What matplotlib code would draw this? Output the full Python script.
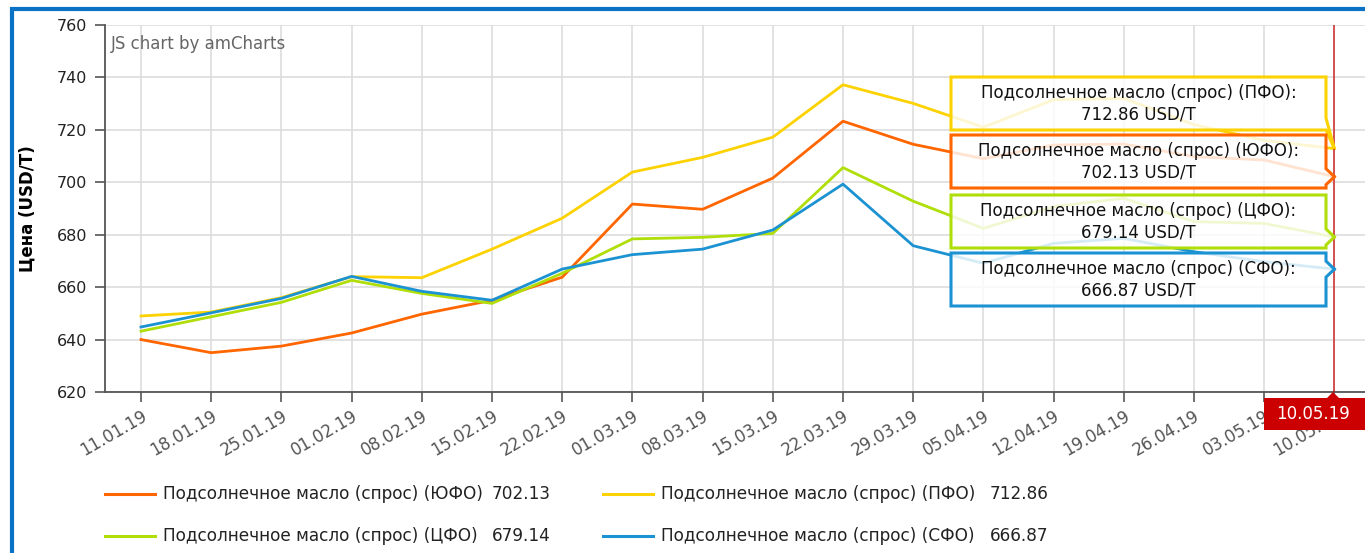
import matplotlib
matplotlib.use("Agg")
import matplotlib.pyplot as plt
from matplotlib.patches import Polygon, Rectangle
from matplotlib.lines import Line2D
from matplotlib.transforms import IdentityTransform

dates = ['11.01.19', '18.01.19', '25.01.19', '01.02.19', '08.02.19', '15.02.19',
         '22.02.19', '01.03.19', '08.03.19', '15.03.19', '22.03.19', '29.03.19',
         '05.04.19', '12.04.19', '19.04.19', '26.04.19', '03.05.19', '10.05.19']

yufo = [640.0, 635.0, 637.5, 642.5, 649.7, 655.0, 663.8, 691.7, 689.7, 701.6,
        723.3, 714.5, 709.0, 714.2, 714.6, 709.8, 708.5, 702.13]
pfo = [649.0, 650.5, 656.0, 664.0, 663.6, 674.5, 686.3, 703.9, 709.5, 717.2,
       737.2, 730.1, 721.0, 731.5, 732.0, 722.0, 716.0, 712.86]
cfo = [643.2, 648.7, 654.2, 662.6, 657.6, 653.8, 665.3, 678.4, 679.0, 680.5,
       705.6, 692.8, 682.4, 690.7, 693.9, 685.0, 684.3, 679.14]
sfo = [644.8, 650.2, 655.7, 664.1, 658.4, 655.0, 666.9, 672.4, 674.5, 681.8,
       699.3, 675.8, 669.1, 676.7, 678.6, 673.5, 669.7, 666.87]

names = ['Подсолнечное масло (спрос) (ЮФО)', 'Подсолнечное масло (спрос) (ПФО)',
         'Подсолнечное масло (спрос) (ЦФО)', 'Подсолнечное масло (спрос) (СФО)']
series = [yufo, pfo, cfo, sfo]
colors = ['#ff6600', '#fcd202', '#b0de09', '#1b92d2']

W, H = 1365, 553
plt.rcParams['font.family'] = ['DejaVu Sans']

fig = plt.figure(figsize=(W / 100, H / 100), dpi=100)
fig.patch.set_facecolor('white')
ax = fig.add_axes([105 / W, (H - 392) / H, 1260 / W, 367 / H])

x = list(range(len(dates)))
for vals, c in zip(series, colors):
    ax.plot(x, vals, color=c, lw=2, solid_joinstyle='round', zorder=3)

ax.set_xlim(-0.513, 17.436)
ax.set_ylim(620, 760)
ax.set_yticks(range(620, 761, 20))
ax.set_xticks(x)
ax.set_xticklabels(dates, rotation=30, ha='right', rotation_mode='anchor',
                   fontsize=12, color='#222')
ax.tick_params(axis='y', labelsize=11.5, colors='#555', labelcolor='#222',
               length=7, width=1.2, pad=6)
ax.tick_params(axis='x', colors='#555', length=7, width=1.2, pad=4)
ax.grid(True, color='#dddddd', lw=1.2, zorder=0)
ax.set_axisbelow(True)
for s in ['top', 'right']:
    ax.spines[s].set_visible(False)
for s in ['left', 'bottom']:
    ax.spines[s].set_color('#555')
    ax.spines[s].set_linewidth(1.3)
ax.set_ylabel('Цена (USD/T)', fontsize=12, fontweight='bold', labelpad=14)

idt = IdentityTransform()
ax.text(111, H - 44, 'JS chart by amCharts', transform=idt,
        fontsize=12, color='#666', va='center', ha='left')

# cursor
ax.axvline(17, color='#cc0000', lw=1.2, alpha=0.75, zorder=4)
ax.add_patch(Rectangle((1264, H - 430), 101, 32, transform=idt, facecolor='#cc0000',
                       edgecolor='none', clip_on=False, zorder=10))
ax.add_patch(Polygon([(1327, H - 398), (1333, H - 392), (1339, H - 398)], closed=True,
                     transform=idt, facecolor='#cc0000', edgecolor='none',
                     clip_on=False, zorder=10))
ax.text(1313, H - 414, dates[-1], transform=idt, color='white', fontsize=12,
        ha='center', va='center', zorder=11)

# tooltips (top to bottom: ПФО, ЮФО, ЦФО, СФО)
order = [1, 0, 2, 3]
tops = [77, 135, 195, 253]
L, R, bh = 951, 1326, 53
for k, top in zip(order, tops):
    val = series[k][-1]
    tx, ty = ax.transData.transform((17, val))
    tipy = H - ty
    bot = top + bh
    ptop = min(tipy - 8, bot - 12)
    pbot = min(tipy + 8, bot)
    pts = [(L, top), (R, top), (R, ptop), (tx, tipy), (R, pbot), (R, bot), (L, bot)]
    pts = [(px, H - pyy) for px, pyy in pts]
    ax.add_patch(Polygon(pts, closed=True, transform=idt, facecolor=(1, 1, 1, 0.82),
                         edgecolor=colors[k], lw=2.2, clip_on=False, zorder=8))
    ax.text((L + R) / 2, H - (top + bh / 2),
            names[k] + ':\n' + '%.2f USD/T' % val, transform=idt, fontsize=12,
            color='#111', ha='center', va='center', linespacing=1.25, zorder=9)

# legend
leg_pos = [(105, 494), (603, 494), (105, 536), (603, 536)]
val_x = [492, 990, 492, 990]
for k, (lx, ly) in enumerate(leg_pos):
    fig.add_artist(Line2D([lx / W, (lx + 50) / W], [(H - ly) / H, (H - ly) / H],
                          color=colors[k], lw=2.2))
    fig.text((lx + 58) / W, (H - ly) / H, names[k], fontsize=12.2, color='#222',
             va='center', ha='left')
    fig.text(val_x[k] / W, (H - ly) / H, '%.2f' % series[k][-1], fontsize=12.2,
             color='#222', va='center', ha='left')

# outer frame
fig.add_artist(Rectangle((12 / W, -0.1), 1.2, (H - 9.5) / H + 0.1,
                         transform=fig.transFigure, facecolor='none',
                         edgecolor='#0a72c4', lw=3))

fig.savefig('out.png', dpi=100)
